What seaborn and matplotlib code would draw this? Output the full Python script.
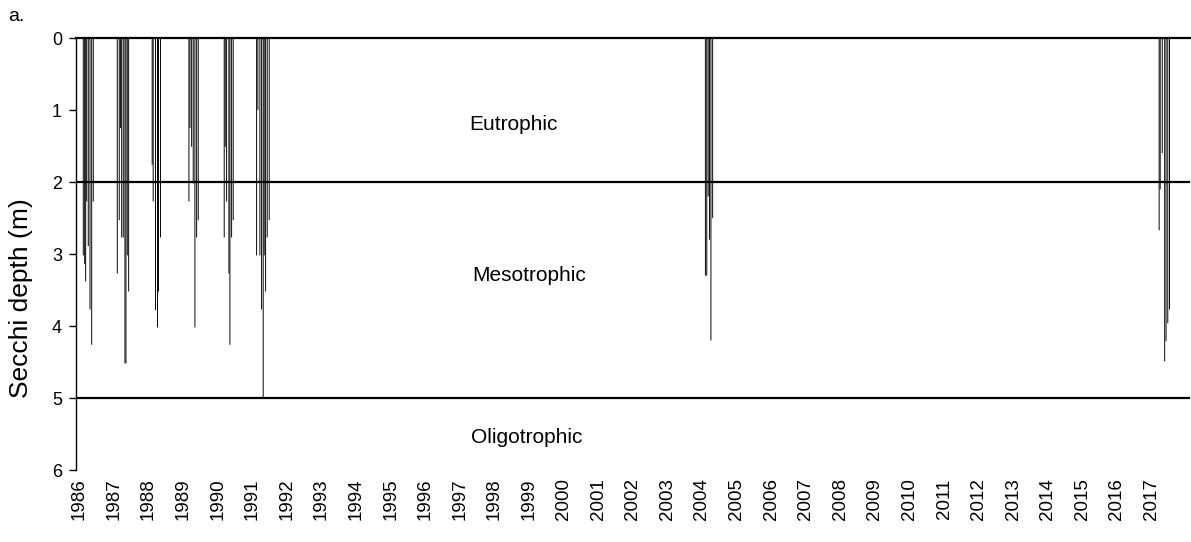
import matplotlib
matplotlib.use("Agg")
import matplotlib.pyplot as plt
import seaborn as sns
import pandas as pd

# Fechas de muestreo (año decimal) y profundidad Secchi (m)
fechas_1986 = [1986.111, 1986.151, 1986.180, 1986.209, 1986.255, 1986.305, 1986.354, 1986.400]
secchi_1986 = [3.02, 3.14, 3.38, 2.27, 2.89, 3.77, 4.26, 2.27]

fechas_1987 = [1987.094, 1987.151, 1987.190, 1987.221, 1987.267, 1987.316, 1987.345, 1987.383, 1987.423]
secchi_1987 = [3.27, 2.53, 1.25, 2.77, 2.77, 4.52, 4.52, 3.02, 3.52]

fechas_1988 = [1988.103, 1988.132, 1988.199, 1988.257, 1988.286, 1988.343]
secchi_1988 = [1.76, 2.27, 3.78, 4.02, 3.52, 2.77]

fechas_1989 = [1989.166, 1989.195, 1989.244, 1989.290, 1989.339, 1989.389, 1989.435]
secchi_1989 = [2.27, 1.25, 1.51, 2.02, 4.02, 2.77, 2.53]

fechas_1990 = [1990.186, 1990.215, 1990.255, 1990.322, 1990.351, 1990.400, 1990.446]
secchi_1990 = [2.77, 1.51, 2.27, 3.27, 4.26, 2.77, 2.53]

fechas_1991 = [1991.123, 1991.160, 1991.218, 1991.267, 1991.313, 1991.342, 1991.383, 1991.429, 1991.487]
secchi_1991 = [3.02, 1.00, 3.02, 3.77, 5.00, 3.02, 3.52, 2.77, 2.53]

fechas_2004 = [2004.10, 2004.14, 2004.18, 2004.22, 2004.26, 2004.31]
secchi_2004 = [3.30, 3.30, 2.20, 2.80, 4.20, 2.50]

fechas_2017 = [2017.22, 2017.25, 2017.31, 2017.38, 2017.42, 2017.47, 2017.52]
secchi_2017 = [2.67, 2.10, 1.60, 4.49, 4.21, 3.96, 3.77]

anios = list(range(1986, 2018))
limites_troficos = [2, 5]
zonas = ["Eutrophic", "Mesotrophic", "Oligotrophic"]
zonas_prof = [1.2, 3.3, 5.55]
zonas_x = [1998.56, 1999.0, 1998.93]

df = pd.DataFrame({
    "fecha": fechas_1986 + fechas_1987 + fechas_1988 + fechas_1989 + fechas_1990
    + fechas_1991 + fechas_2004 + fechas_2017,
    "secchi": secchi_1986 + secchi_1987 + secchi_1988 + secchi_1989 + secchi_1990
    + secchi_1991 + secchi_2004 + secchi_2017,
})

sns.set_style("white")
plt.rcParams["font.family"] = ["Liberation Sans", "DejaVu Sans"]
plt.rcParams["text.color"] = "black"
plt.rcParams["axes.labelcolor"] = "black"
plt.rcParams["xtick.color"] = "black"
plt.rcParams["ytick.color"] = "black"

fig = plt.figure(figsize=(11.91, 5.42), dpi=100)
ax = fig.add_axes([0.0638, 0.1328, 0.935, 0.797])

sns.barplot(data=df, x="fecha", y="secchi", native_scale=True, orient="x",
            color="black", width=0.95, errorbar=None, linewidth=0,
            saturation=1, ax=ax)
# sin ajuste a píxel: las barras finas salen en gris como en el original
for barra in ax.patches:
    barra.set_snap(False)

for lim in limites_troficos:
    ax.axhline(lim, color="black", lw=1.6)

for nombre, xx, prof in zip(zonas, zonas_x, zonas_prof):
    ax.text(xx, prof, nombre, ha="center", va="center", fontsize=15, color="black")

ax.set_ylim(6, 0)
ax.set_xlim(1985.9, 2018.1)
ax.set_yticks(range(0, 7))
ax.set_xticks(anios)
ax.set_xticklabels([str(a) for a in anios], rotation=90, fontsize=13.5)
ax.tick_params(axis="y", labelsize=13, direction="out", length=5, width=1, left=True, pad=5)
ax.tick_params(axis="x", length=0, pad=6)
ax.set_xlabel("")
ax.set_ylabel("Secchi depth (m)", fontsize=19)
ax.yaxis.set_label_coords(-0.039, 0.398)

for lado in ["right", "bottom"]:
    ax.spines[lado].set_visible(False)
ax.spines["top"].set_linewidth(1.6)
ax.spines["top"].set_color("black")
ax.spines["left"].set_linewidth(1)
ax.spines["left"].set_color("black")

fig.text(0.007, 0.985, "a.", fontsize=14, va="top")

plt.savefig("out.png", dpi=100)
